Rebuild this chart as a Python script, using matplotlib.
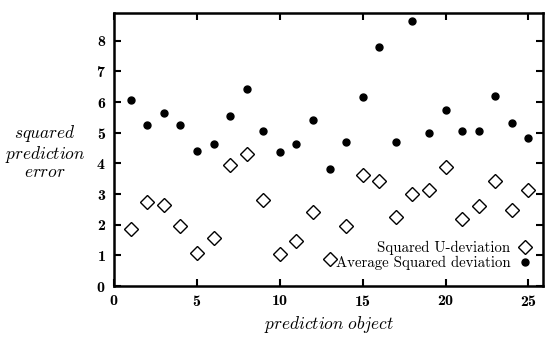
import numpy as np
import matplotlib.pyplot as plt

plt.rcParams['mathtext.fontset'] = 'cm'
plt.rcParams['font.family'] = ['cmr10', 'DejaVu Serif']
plt.rcParams['axes.formatter.use_mathtext'] = True

# prediction objects 1..25
objects = np.arange(1, 26)

u_dev = [1.85, 2.74, 2.63, 1.96, 1.08, 1.57, 3.96, 4.32, 2.79, 1.04,
         1.46, 2.42, 0.87, 1.96, 3.62, 3.44, 2.26, 2.99, 3.13, 3.89,
         2.18, 2.61, 3.42, 2.48, 3.14]

avg_dev = [6.06, 5.25, 5.65, 5.25, 4.41, 4.62, 5.54, 6.41, 5.07, 4.37,
           4.62, 5.40, 3.83, 4.70, 6.15, 7.80, 4.70, 8.63, 4.99, 5.73,
           5.04, 5.04, 6.21, 5.31, 4.83]

fig = plt.figure(figsize=(5.46, 3.45), dpi=100)
ax = fig.add_axes([0.209, 0.171, 0.786, 0.791])

ax.plot(objects, u_dev, linestyle='none', marker='D', markersize=7.5,
        markerfacecolor='white', markeredgecolor='black', markeredgewidth=1.0,
        label='Squared U-deviation')
ax.plot(objects, avg_dev, linestyle='none', marker='o', markersize=5,
        color='black', label='Average Squared deviation')

ax.set_xlim(0, 25.9)
ax.set_ylim(0, 8.9)
ax.set_xticks([0, 5, 10, 15, 20, 25])
ax.set_yticks(range(0, 9))

ax.tick_params(direction='in', top=True, right=True, length=5, width=1.5,
               labelsize=11.5, pad=6)
for lab in ax.get_xticklabels() + ax.get_yticklabels():
    lab.set_fontfamily('cmb10')
for s in ax.spines.values():
    s.set_linewidth(1.8)

ax.set_xlabel(r'$\mathit{prediction\ object}$', fontsize=12.5, labelpad=3)
fig.text(0.083, 0.56, r'$\mathit{squared}$' + '\n' + r'$\mathit{prediction}$' + '\n' + r'$\mathit{error}$',
         ha='center', va='center', fontsize=12.5, linespacing=1.0)

ax.legend(loc='lower right', bbox_to_anchor=(1.0, 0.02), markerfirst=False,
          frameon=False, fontsize=10.7, handletextpad=0.5, labelspacing=0.05,
          borderaxespad=0.3, handlelength=1.0)

fig.savefig('out.png', dpi=100)
